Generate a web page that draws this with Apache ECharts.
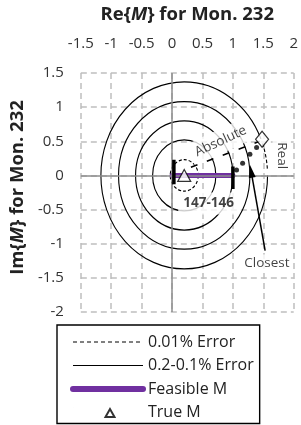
<!DOCTYPE html>
<html>
<head>
<meta charset="utf-8">
<script src="https://cdn.jsdelivr.net/npm/echarts@6/dist/echarts.min.js"></script>
<style>
  html, body { margin: 0; padding: 0; background: #fff; }
  #chart { width: 301px; height: 425px; }
</style>
</head>
<body>
<div id="chart"></div>
<script>
// axis ticks
const xTicks = [-1.5, -1, -0.5, 0, 0.5, 1, 1.5, 2];
const yTicks = [-2, -1.5, -1, -0.5, 0, 0.5, 1, 1.5];

// true M (centre of the error circles)
const trueM = [[0.2, 0]];
// error circles: [radius, startDeg, endDeg]
const solidArcs = [[0.52, 0, 360], [0.8, 0, 360], [1.08, 0, 360], [1.37, 23, 360]];
const dashedArcs = [[0.23, 0, 360], [1.37, 3, 20]];

// "Absolute" direction
const absoluteRay = [[0.31, 0.12], [1.44, 0.5]];
// feasible M and its end bars
const feasibleM = [[0, 0], [1.0, 0]];
const leftBar = [[0.03, 0.23], [0.03, -0.13]];
const rightBar = [[1.0, 0.13], [1.0, -0.2]];
// "Real" points
const realDots = [[1.06, 0.08], [1.16, 0.18], [1.28, 0.31], [1.39, 0.41]];
const realEnd = [[1.48, 0.53]];
// closest arrow: tail, head
const closestArrow = [[1.53, -1.1], [1.3, 0.06]];

// annotations: [x, y, text]
const notes = [
  [0.8, 0.5, 'Absolute'],
  [1.8, 0.29, 'Real'],
  [0.6, -0.41, '147-146'],
  [1.56, -1.29, 'Closest']
];

const FONT = 'Open Sans';
const chart = echarts.init(document.getElementById('chart'));

function arcItem(dash) {
  return function (params, api) {
    const c = api.coord([api.value(0), api.value(1)]);
    const s = api.size([api.value(2), api.value(2)]);
    const rx = Math.abs(s[0]), ry = Math.abs(s[1]);
    const a0 = api.value(3) * Math.PI / 180;
    const a1 = api.value(4) * Math.PI / 180;
    return {
      type: 'arc',
      shape: { cx: c[0], cy: c[1], r: rx, startAngle: -a1, endAngle: -a0, clockwise: true },
      originX: c[0], originY: c[1], scaleY: ry / rx,
      style: { stroke: '#000', lineWidth: 1.1, fill: null, lineDash: dash },
      silent: true
    };
  };
}

const toArcData = arcs => arcs.map(a => [trueM[0][0], trueM[0][1], a[0], a[1], a[2]]);

function segment(data, width, dash) {
  return {
    type: 'line', data: data, symbol: 'none', z: 5, silent: true,
    lineStyle: { color: '#000', width: width, type: dash || 'solid' }
  };
}

const noteStyle = [
  { rotate: 25, padding: [6, 6, 3, 6] },
  { rotate: -90, padding: [2, 2, 2, 2] },
  { rotate: 0, fontWeight: 'bold', padding: [4, 5, 4, 5] },
  { rotate: 0, padding: [2, 3, 2, 3] }
];

function titleStyle(pad) {
  return {
    fontFamily: FONT, fontSize: 18.5, fontWeight: 'bold', color: '#222', padding: pad,
    rich: { i: { fontFamily: FONT, fontSize: 18.5, fontWeight: 'bold', fontStyle: 'italic', color: '#222' } }
  };
}
const gridLine = { lineStyle: { color: '#bfbfbf', type: [6, 4], width: 1.5 } };
const noSymbol = { opacity: 0 };
// small open triangle centred in a 70x10 icon box
const triangleIcon = 'path://M0,0L0.01,0M70,10L70.01,10M32.5,9.5L37,1.5L41.5,9.5Z';

const option = {
  animation: false,
  grid: { left: 74, top: 72, right: 3, bottom: 113 },
  xAxis: {
    type: 'value', position: 'top',
    min: xTicks[0], max: xTicks[xTicks.length - 1], interval: 0.5,
    name: 'Re{{i|M}} for Mon. 232',
    nameLocation: 'middle', nameGap: 49,
    nameTextStyle: titleStyle([0, 0, 0, 0]),
    axisLine: { show: false }, axisTick: { show: false },
    axisLabel: { margin: 22, fontFamily: FONT, fontSize: 15, color: '#333' },
    splitLine: gridLine
  },
  yAxis: {
    type: 'value',
    min: yTicks[0], max: yTicks[yTicks.length - 1], interval: 0.5,
    name: 'Im{{i|M}} for Mon. 232',
    nameLocation: 'middle', nameGap: 49,
    nameTextStyle: titleStyle([0, 0, 0, 10]),
    axisLine: { show: false }, axisTick: { show: false },
    axisLabel: { margin: 17, fontFamily: FONT, fontSize: 15, color: '#333' },
    splitLine: gridLine
  },
  legend: {
    orient: 'vertical', left: 57, top: 325,
    data: [
      { name: '0.01% Error', itemStyle: noSymbol, lineStyle: { width: 1 } },
      { name: '0.2-0.1% Error', itemStyle: noSymbol, lineStyle: { width: 1 } },
      { name: 'Feasible M', itemStyle: noSymbol, lineStyle: { width: 6, cap: 'round' } },
      { name: 'True M', icon: triangleIcon }
    ],
    itemWidth: 70, itemHeight: 10, itemGap: 7.5,
    padding: [9, 6, 3, 13],
    borderColor: '#000', borderWidth: 1.4,
    selectedMode: false,
    textStyle: { fontFamily: FONT, fontSize: 16, lineHeight: 16, color: '#222' }
  },
  series: [
    // legend entries for the circle styles
    { name: '0.01% Error', type: 'line', data: [], symbol: 'none',
      itemStyle: { color: '#000' }, lineStyle: { color: '#000', width: 1, type: [4, 3] } },
    { name: '0.2-0.1% Error', type: 'line', data: [], symbol: 'none',
      itemStyle: { color: '#000' }, lineStyle: { color: '#000', width: 1 } },
    // zero lines
    { type: 'line', data: [], silent: true, z: 1,
      markLine: { silent: true, symbol: 'none', label: { show: false }, animation: false,
        lineStyle: { color: '#8c8c8c', width: 1.5, type: 'solid' },
        data: [{ xAxis: 0 }, { yAxis: 0 }] } },
    // circles
    { name: '0.2-0.1% Error', type: 'custom', coordinateSystem: 'cartesian2d', z: 2,
      encode: { x: 0, y: 1 }, renderItem: arcItem(null), data: toArcData(solidArcs) },
    { name: '0.01% Error', type: 'custom', coordinateSystem: 'cartesian2d', z: 2,
      encode: { x: 0, y: 1 }, renderItem: arcItem([3, 2]), data: toArcData(dashedArcs) },
    // annotations with white boxes
    { type: 'scatter', z: 3, silent: true, symbolSize: 0,
      data: notes.map((n, i) => ({
        value: [n[0], n[1]], name: n[2],
        label: Object.assign({ show: true, position: 'inside', formatter: '{b}',
          fontFamily: FONT, fontSize: 13.5, color: '#111', backgroundColor: '#fff' }, noteStyle[i])
      })) },
    segment(absoluteRay, 1.5, [7, 10]),
    segment(leftBar, 3.5),
    segment(rightBar, 3.5),
    { name: 'Feasible M', type: 'line', data: feasibleM, symbol: 'none', z: 4,
      itemStyle: { color: '#7030a0' },
      lineStyle: { color: '#7030a0', width: 5, cap: 'round' } },
    { type: 'scatter', data: realDots, symbol: 'circle', symbolSize: 5, z: 6, silent: true,
      itemStyle: { color: '#000' } },
    { type: 'scatter', data: realEnd, symbol: 'diamond', symbolSize: [13, 16], z: 6, silent: true,
      itemStyle: { color: '#fff', borderColor: '#000', borderWidth: 1.2 } },
    { type: 'line', z: 6, silent: true,
      data: [
        { value: closestArrow[0], symbol: 'none' },
        { value: closestArrow[1], symbol: 'triangle', symbolSize: [7, 13], symbolRotate: 10 }
      ],
      showSymbol: true, itemStyle: { color: '#000' },
      lineStyle: { color: '#000', width: 1.5 } },
    { name: 'True M', type: 'scatter', data: trueM, symbol: 'triangle', symbolSize: [13, 12], z: 7,
      itemStyle: { color: '#fff', borderColor: '#000', borderWidth: 1.2 } }
  ]
};

chart.setOption(option);
</script>
</body>
</html>
